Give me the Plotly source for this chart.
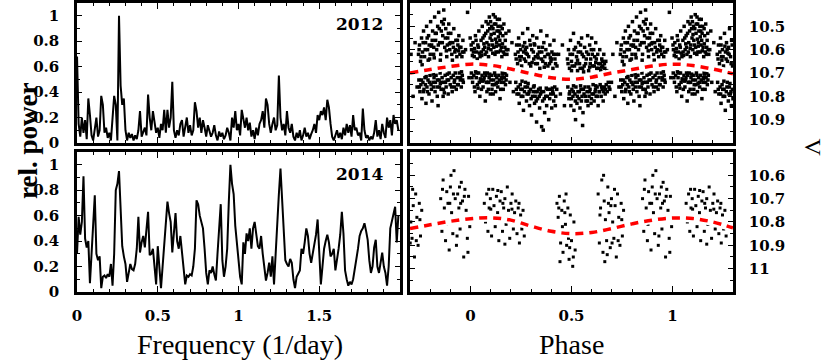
import numpy as np
import plotly.graph_objects as go
from plotly.subplots import make_subplots

# periodograms, sampled every 0.01 1/day from 0 to 1.99
freq = np.arange(200) * 0.01
pow_2012 = [
    0.68, 0.15, 0.05, 0.20, 0.08, 0.18, 0.03, 0.35, 0.22, 0.06,
    0.02, 0.12, 0.20, 0.05, 0.10, 0.37, 0.30, 0.08, 0.12, 0.04,
    0.08, 0.02, 0.20, 0.37, 0.30, 0.02, 1.00, 0.45, 0.30, 0.35,
    0.10, 0.02, 0.08, 0.04, 0.07, 0.02, 0.06, 0.03, 0.10, 0.25,
    0.05, 0.08, 0.12, 0.06, 0.38, 0.20, 0.10, 0.25, 0.18, 0.08,
    0.12, 0.04, 0.15, 0.10, 0.26, 0.08, 0.26, 0.12, 0.20, 0.48,
    0.10, 0.04, 0.10, 0.06, 0.15, 0.18, 0.05, 0.12, 0.20, 0.08,
    0.14, 0.06, 0.10, 0.32, 0.25, 0.12, 0.20, 0.08, 0.18, 0.12,
    0.05, 0.14, 0.10, 0.05, 0.08, 0.14, 0.06, 0.02, 0.09, 0.05,
    0.08, 0.03, 0.06, 0.12, 0.08, 0.02, 0.20, 0.12, 0.25, 0.10,
    0.15, 0.06, 0.26, 0.18, 0.12, 0.20, 0.10, 0.16, 0.05, 0.10,
    0.03, 0.12, 0.06, 0.15, 0.18, 0.25, 0.12, 0.35, 0.30, 0.15,
    0.08, 0.15, 0.20, 0.10, 0.14, 0.53, 0.20, 0.10, 0.15, 0.06,
    0.25, 0.12, 0.08, 0.15, 0.05, 0.02, 0.08, 0.04, 0.10, 0.02,
    0.06, 0.12, 0.05, 0.08, 0.03, 0.07, 0.10, 0.15, 0.08, 0.22,
    0.18, 0.25, 0.22, 0.28, 0.18, 0.34, 0.28, 0.15, 0.05, 0.02,
    0.06, 0.10, 0.04, 0.08, 0.03, 0.12, 0.06, 0.15, 0.08, 0.14,
    0.05, 0.22, 0.10, 0.12, 0.06, 0.08, 0.02, 0.27, 0.10, 0.04,
    0.06, 0.02, 0.05, 0.03, 0.08, 0.18, 0.05, 0.10, 0.03, 0.15,
    0.08, 0.04, 0.20, 0.12, 0.18, 0.06, 0.22, 0.15, 0.18, 0.10,
]
pow_2014 = [
    0.30, 0.59, 0.45, 0.55, 0.91, 0.42, 0.35, 0.40, 0.07, 0.30,
    0.62, 0.76, 0.30, 0.25, 0.28, 0.03, 0.12, 0.13, 0.11, 0.14,
    0.12, 0.22, 0.05, 0.30, 0.80, 0.85, 0.95, 0.70, 0.36, 0.28,
    0.22, 0.08, 0.15, 0.22, 0.18, 0.17, 0.22, 0.34, 0.59, 0.31,
    0.39, 0.44, 0.35, 0.50, 0.63, 0.29, 0.30, 0.34, 0.20, 0.06,
    0.36, 0.15, 0.03, 0.20, 0.38, 0.52, 0.71, 0.62, 0.55, 0.31,
    0.45, 0.62, 0.40, 0.34, 0.44, 0.31, 0.20, 0.06, 0.13, 0.12,
    0.14, 0.13, 0.20, 0.34, 0.72, 0.69, 0.60, 0.55, 0.50, 0.34,
    0.15, 0.06, 0.17, 0.15, 0.20, 0.14, 0.09, 0.30, 0.46, 0.69,
    0.25, 0.12, 0.20, 0.34, 0.71, 1.00, 0.85, 0.77, 0.52, 0.40,
    0.28, 0.12, 0.06, 0.39, 0.30, 0.46, 0.40, 0.50, 0.34, 0.50,
    0.55, 0.45, 0.36, 0.34, 0.44, 0.30, 0.20, 0.09, 0.15, 0.23,
    0.12, 0.28, 0.06, 0.34, 0.60, 0.77, 0.97, 0.69, 0.46, 0.25,
    0.22, 0.20, 0.26, 0.23, 0.10, 0.03, 0.12, 0.15, 0.17, 0.34,
    0.30, 0.39, 0.50, 0.44, 0.30, 0.23, 0.30, 0.39, 0.45, 0.57,
    0.34, 0.06, 0.20, 0.34, 0.40, 0.45, 0.39, 0.28, 0.30, 0.34,
    0.17, 0.25, 0.34, 0.45, 0.63, 0.46, 0.17, 0.10, 0.05, 0.08,
    0.06, 0.10, 0.17, 0.25, 0.34, 0.44, 0.48, 0.50, 0.54, 0.48,
    0.41, 0.25, 0.15, 0.20, 0.35, 0.41, 0.20, 0.15, 0.22, 0.31,
    0.20, 0.15, 0.05, 0.20, 0.50, 0.55, 0.60, 0.67, 0.39, 0.60,
]

# 2012 phased V photometry (phase, V), one list per night
lc12_a = [
    (0.005, 10.60), (0.012, 10.57), (0.018, 10.63), (0.024, 10.54), (0.030, 10.61), (0.036, 10.58),
    (0.041, 10.52), (0.047, 10.63), (0.052, 10.56), (0.058, 10.50), (0.063, 10.60), (0.068, 10.54),
    (0.072, 10.62), (0.077, 10.48), (0.081, 10.57), (0.085, 10.52), (0.089, 10.63), (0.093, 10.46),
    (0.097, 10.55), (0.101, 10.60), (0.105, 10.50), (0.109, 10.58), (0.113, 10.45), (0.117, 10.53),
    (0.121, 10.62), (0.125, 10.49), (0.129, 10.57), (0.133, 10.47), (0.137, 10.61), (0.141, 10.52),
    (0.145, 10.56), (0.150, 10.50), (0.155, 10.63), (0.160, 10.54), (0.165, 10.49), (0.170, 10.59),
    (0.175, 10.53), (0.180, 10.62), (0.020, 10.595), (0.044, 10.615), (0.066, 10.575), (0.088, 10.595),
    (0.110, 10.615), (0.128, 10.585), (0.148, 10.605), (0.168, 10.62), (0.095, 10.51), (0.118, 10.49),
    (0.138, 10.545), (0.158, 10.575), (0.009, 10.625), (0.055, 10.625), (0.075, 10.53), (0.102, 10.535),
    (0.124, 10.555), (0.143, 10.47),
    (0.003, 10.58), (0.014, 10.61), (0.027, 10.56), (0.033, 10.64), (0.039, 10.59), (0.053, 10.61),
    (0.061, 10.55), (0.070, 10.59), (0.079, 10.61), (0.087, 10.49), (0.091, 10.58), (0.099, 10.48),
    (0.106, 10.56), (0.111, 10.51), (0.115, 10.59), (0.122, 10.46), (0.126, 10.61), (0.131, 10.52),
    (0.136, 10.50), (0.142, 10.58), (0.147, 10.53), (0.152, 10.59), (0.157, 10.51), (0.163, 10.61),
    (0.172, 10.56), (0.177, 10.60),
    (0.004, 10.70), (0.010, 10.74), (0.016, 10.71), (0.022, 10.78), (0.028, 10.72), (0.034, 10.75),
    (0.040, 10.70), (0.046, 10.80), (0.051, 10.73), (0.057, 10.71), (0.062, 10.76), (0.067, 10.72),
    (0.073, 10.82), (0.078, 10.74), (0.083, 10.70), (0.088, 10.77), (0.092, 10.72), (0.098, 10.79),
    (0.103, 10.71), (0.108, 10.75), (0.114, 10.73), (0.119, 10.70), (0.124, 10.78), (0.130, 10.72),
    (0.135, 10.76), (0.140, 10.71), (0.146, 10.81), (0.151, 10.74), (0.157, 10.70), (0.162, 10.77),
    (0.167, 10.72), (0.173, 10.75), (0.178, 10.71), (0.025, 10.695), (0.060, 10.735), (0.095, 10.705),
    (0.127, 10.745), (0.160, 10.705), (0.037, 10.765), (0.070, 10.70), (0.112, 10.79), (0.153, 10.725),
    (0.085, 10.74), (0.048, 10.725),
    (0.007, 10.72), (0.019, 10.76), (0.031, 10.70), (0.043, 10.74), (0.054, 10.77), (0.065, 10.73),
    (0.076, 10.71), (0.081, 10.78), (0.090, 10.74), (0.101, 10.73), (0.106, 10.77), (0.117, 10.75),
    (0.122, 10.71), (0.133, 10.74), (0.143, 10.73), (0.149, 10.77), (0.155, 10.72), (0.165, 10.74),
    (0.171, 10.70), (0.176, 10.73),
]
lc12_b = [
    (0.222, 10.62), (0.228, 10.58), (0.233, 10.66), (0.238, 10.55), (0.243, 10.63), (0.248, 10.60),
    (0.253, 10.67), (0.258, 10.53), (0.263, 10.61), (0.268, 10.57), (0.273, 10.65), (0.278, 10.59),
    (0.283, 10.51), (0.288, 10.63), (0.293, 10.56), (0.298, 10.67), (0.303, 10.60), (0.308, 10.54),
    (0.313, 10.64), (0.318, 10.58), (0.323, 10.66), (0.328, 10.55), (0.333, 10.62), (0.338, 10.59),
    (0.343, 10.68), (0.348, 10.52), (0.353, 10.61), (0.358, 10.65), (0.363, 10.57), (0.368, 10.63),
    (0.373, 10.60), (0.378, 10.54), (0.383, 10.67), (0.388, 10.62), (0.393, 10.58), (0.398, 10.65),
    (0.403, 10.61), (0.408, 10.68), (0.413, 10.56), (0.418, 10.64), (0.423, 10.62), (0.428, 10.67),
    (0.245, 10.645), (0.275, 10.615), (0.305, 10.655), (0.335, 10.635), (0.365, 10.675), (0.395, 10.635),
    (0.260, 10.585), (0.315, 10.575),
    (0.226, 10.64), (0.235, 10.61), (0.241, 10.58), (0.251, 10.63), (0.266, 10.64), (0.271, 10.60),
    (0.281, 10.62), (0.291, 10.66), (0.296, 10.58), (0.311, 10.61), (0.321, 10.63), (0.331, 10.66),
    (0.341, 10.61), (0.351, 10.64), (0.356, 10.59), (0.371, 10.66), (0.381, 10.62), (0.391, 10.66),
    (0.401, 10.64), (0.411, 10.62), (0.421, 10.66),
    (0.224, 10.74), (0.230, 10.79), (0.236, 10.76), (0.241, 10.83), (0.246, 10.75), (0.251, 10.80),
    (0.256, 10.77), (0.262, 10.86), (0.267, 10.78), (0.272, 10.74), (0.277, 10.82), (0.282, 10.76),
    (0.287, 10.79), (0.292, 10.84), (0.297, 10.77), (0.302, 10.88), (0.307, 10.80), (0.312, 10.76),
    (0.317, 10.83), (0.322, 10.78), (0.327, 10.91), (0.332, 10.81), (0.337, 10.77), (0.342, 10.85),
    (0.347, 10.79), (0.352, 10.93), (0.357, 10.82), (0.362, 10.78), (0.367, 10.87), (0.372, 10.80),
    (0.377, 10.84), (0.382, 10.77), (0.387, 10.90), (0.392, 10.81), (0.397, 10.79), (0.402, 10.85),
    (0.407, 10.78), (0.412, 10.82), (0.417, 10.76), (0.422, 10.80), (0.427, 10.77), (0.255, 10.735),
    (0.285, 10.745), (0.315, 10.755), (0.345, 10.765), (0.375, 10.765), (0.405, 10.765), (0.325, 10.82),
    (0.360, 10.945),
    (0.227, 10.77), (0.239, 10.79), (0.249, 10.77), (0.259, 10.80), (0.270, 10.76), (0.280, 10.79),
    (0.290, 10.78), (0.300, 10.81), (0.310, 10.78), (0.320, 10.80), (0.330, 10.78), (0.340, 10.80),
    (0.350, 10.78), (0.365, 10.81), (0.380, 10.80), (0.395, 10.77), (0.410, 10.79), (0.420, 10.84),
]
lc12_c = [
    (0.480, 10.64), (0.485, 10.60), (0.490, 10.68), (0.495, 10.56), (0.500, 10.65), (0.505, 10.62),
    (0.510, 10.53), (0.515, 10.67), (0.520, 10.59), (0.525, 10.63), (0.530, 10.69), (0.535, 10.57),
    (0.540, 10.66), (0.545, 10.61), (0.550, 10.55), (0.555, 10.68), (0.560, 10.63), (0.565, 10.59),
    (0.570, 10.66), (0.575, 10.61), (0.580, 10.54), (0.585, 10.69), (0.590, 10.58), (0.595, 10.64),
    (0.600, 10.55), (0.605, 10.67), (0.610, 10.60), (0.615, 10.63), (0.620, 10.57), (0.625, 10.68),
    (0.630, 10.62), (0.635, 10.66), (0.640, 10.60), (0.645, 10.69), (0.650, 10.64), (0.655, 10.67),
    (0.660, 10.62), (0.665, 10.68), (0.670, 10.65), (0.675, 10.69), (0.500, 10.69), (0.530, 10.645),
    (0.560, 10.695), (0.590, 10.675), (0.620, 10.655), (0.650, 10.675), (0.545, 10.58), (0.598, 10.60),
    (0.483, 10.66), (0.493, 10.62), (0.503, 10.67), (0.513, 10.60), (0.523, 10.66), (0.533, 10.61),
    (0.543, 10.68), (0.553, 10.62), (0.563, 10.67), (0.573, 10.64), (0.583, 10.62), (0.593, 10.66),
    (0.603, 10.62), (0.613, 10.67), (0.623, 10.64), (0.633, 10.68), (0.643, 10.66), (0.653, 10.65),
    (0.663, 10.66),
    (0.482, 10.76), (0.487, 10.81), (0.492, 10.78), (0.497, 10.84), (0.502, 10.77), (0.507, 10.80),
    (0.512, 10.86), (0.517, 10.79), (0.522, 10.76), (0.527, 10.83), (0.532, 10.78), (0.537, 10.81),
    (0.542, 10.85), (0.547, 10.77), (0.552, 10.80), (0.557, 10.87), (0.562, 10.79), (0.567, 10.76),
    (0.572, 10.82), (0.577, 10.78), (0.582, 10.84), (0.587, 10.80), (0.592, 10.77), (0.597, 10.83),
    (0.602, 10.79), (0.607, 10.75), (0.612, 10.82), (0.617, 10.78), (0.622, 10.80), (0.627, 10.76),
    (0.632, 10.84), (0.637, 10.78), (0.642, 10.75), (0.647, 10.80), (0.652, 10.77), (0.657, 10.82),
    (0.662, 10.76), (0.667, 10.79), (0.672, 10.75), (0.677, 10.78), (0.682, 10.74), (0.690, 10.77),
    (0.698, 10.74), (0.520, 10.90), (0.555, 10.925), (0.510, 10.755), (0.545, 10.755), (0.585, 10.76),
    (0.620, 10.755),
    (0.489, 10.79), (0.499, 10.81), (0.509, 10.78), (0.519, 10.82), (0.529, 10.80), (0.539, 10.78),
    (0.549, 10.82), (0.559, 10.77), (0.569, 10.80), (0.579, 10.82), (0.589, 10.78), (0.599, 10.81),
    (0.609, 10.79), (0.619, 10.77), (0.629, 10.80), (0.639, 10.78), (0.649, 10.76), (0.659, 10.78),
    (0.669, 10.77), (0.686, 10.76),
]
lc12_d = [
    (0.742, 10.62), (0.747, 10.58), (0.752, 10.65), (0.757, 10.55), (0.762, 10.61), (0.767, 10.52),
    (0.772, 10.63), (0.777, 10.57), (0.782, 10.50), (0.787, 10.60), (0.792, 10.54), (0.797, 10.64),
    (0.802, 10.48), (0.807, 10.58), (0.812, 10.52), (0.817, 10.62), (0.822, 10.46), (0.827, 10.56),
    (0.832, 10.60), (0.837, 10.50), (0.842, 10.44), (0.847, 10.57), (0.852, 10.62), (0.857, 10.48),
    (0.862, 10.54), (0.867, 10.43), (0.872, 10.59), (0.877, 10.51), (0.882, 10.63), (0.887, 10.55),
    (0.892, 10.49), (0.897, 10.60), (0.902, 10.53), (0.907, 10.62), (0.912, 10.57), (0.917, 10.51),
    (0.922, 10.61), (0.927, 10.56), (0.932, 10.63), (0.937, 10.58), (0.942, 10.54), (0.947, 10.62),
    (0.952, 10.59), (0.957, 10.63), (0.962, 10.56), (0.967, 10.61), (0.760, 10.665), (0.790, 10.645),
    (0.820, 10.635), (0.850, 10.645), (0.880, 10.605), (0.910, 10.645), (0.940, 10.605), (0.825, 10.53),
    (0.855, 10.52), (0.870, 10.47), (0.895, 10.575), (0.805, 10.585),
    (0.745, 10.60), (0.755, 10.63), (0.765, 10.57), (0.775, 10.60), (0.785, 10.55), (0.795, 10.58),
    (0.800, 10.62), (0.810, 10.56), (0.818, 10.59), (0.830, 10.53), (0.840, 10.58), (0.845, 10.51),
    (0.860, 10.57), (0.865, 10.49), (0.875, 10.55), (0.885, 10.58), (0.890, 10.53), (0.900, 10.57),
    (0.915, 10.59), (0.925, 10.60), (0.935, 10.56), (0.945, 10.59), (0.960, 10.61),
    (0.744, 10.73), (0.749, 10.78), (0.754, 10.75), (0.759, 10.81), (0.764, 10.74), (0.769, 10.77),
    (0.774, 10.72), (0.779, 10.83), (0.784, 10.76), (0.789, 10.73), (0.794, 10.79), (0.799, 10.71),
    (0.804, 10.75), (0.809, 10.82), (0.814, 10.74), (0.819, 10.72), (0.824, 10.78), (0.829, 10.71),
    (0.834, 10.76), (0.839, 10.84), (0.844, 10.73), (0.849, 10.70), (0.854, 10.77), (0.859, 10.72),
    (0.864, 10.80), (0.869, 10.74), (0.874, 10.71), (0.879, 10.76), (0.884, 10.73), (0.889, 10.79),
    (0.894, 10.70), (0.899, 10.75), (0.904, 10.72), (0.909, 10.78), (0.914, 10.71), (0.919, 10.74),
    (0.924, 10.70), (0.929, 10.77), (0.934, 10.72), (0.939, 10.75), (0.944, 10.70), (0.949, 10.73),
    (0.954, 10.76), (0.959, 10.71), (0.964, 10.74), (0.780, 10.715), (0.815, 10.705), (0.850, 10.745),
    (0.885, 10.705), (0.920, 10.76), (0.955, 10.695), (0.835, 10.80), (0.870, 10.785),
    (0.746, 10.76), (0.756, 10.73), (0.766, 10.78), (0.776, 10.75), (0.786, 10.78), (0.796, 10.74),
    (0.806, 10.77), (0.816, 10.76), (0.826, 10.74), (0.836, 10.73), (0.846, 10.76), (0.856, 10.74),
    (0.866, 10.77), (0.876, 10.74), (0.891, 10.73), (0.906, 10.76), (0.921, 10.73), (0.936, 10.75),
    (0.951, 10.72), (0.961, 10.73),
]
lc12_sparse = [
    (0.185, 10.60), (0.195, 10.74), (0.205, 10.57), (0.212, 10.78), (0.190, 10.52), (0.436, 10.62),
    (0.445, 10.79), (0.455, 10.58), (0.465, 10.84), (0.705, 10.62), (0.715, 10.80), (0.725, 10.57),
    (0.735, 10.76), (0.975, 10.60), (0.985, 10.44), (0.992, 10.72), (0.998, 10.55),
]

# 2014 phased V photometry
lc14_a = [
    (0.068, 10.72), (0.074, 10.80), (0.080, 10.68), (0.086, 10.84), (0.092, 10.74), (0.098, 10.70),
    (0.104, 10.86), (0.110, 10.66), (0.116, 10.73), (0.122, 10.82), (0.128, 10.69), (0.134, 10.76),
    (0.140, 10.88), (0.146, 10.71), (0.152, 10.67), (0.158, 10.84), (0.164, 10.74), (0.170, 10.70),
    (0.176, 10.81), (0.182, 10.65), (0.188, 10.75), (0.194, 10.87), (0.200, 10.72), (0.206, 10.68),
    (0.212, 10.83), (0.218, 10.76), (0.224, 10.71), (0.230, 10.85), (0.236, 10.74), (0.242, 10.89),
    (0.248, 10.77), (0.254, 10.83), (0.260, 10.75), (0.266, 10.86), (0.100, 10.745), (0.135, 10.665),
    (0.170, 10.895), (0.205, 10.745), (0.240, 10.72), (0.090, 10.66), (0.160, 10.72), (0.225, 10.80),
]
lc14_b = [
    (0.428, 10.72), (0.434, 10.78), (0.440, 10.69), (0.446, 10.89), (0.452, 10.75), (0.458, 10.93),
    (0.464, 10.71), (0.470, 10.81), (0.476, 10.90), (0.482, 10.74), (0.488, 10.96), (0.494, 10.77),
    (0.500, 10.88), (0.506, 10.99), (0.512, 10.80), (0.518, 10.92), (0.437, 10.74), (0.455, 10.82),
    (0.473, 10.68), (0.491, 10.91), (0.509, 10.95), (0.443, 10.97), (0.467, 10.76), (0.485, 10.87),
]
lc14_c = [
    (0.632, 10.68), (0.638, 10.89), (0.644, 10.74), (0.650, 10.62), (0.656, 10.93), (0.662, 10.71),
    (0.668, 10.79), (0.674, 10.88), (0.680, 10.65), (0.686, 10.76), (0.692, 10.91), (0.698, 10.70),
    (0.704, 10.80), (0.710, 10.87), (0.716, 10.73), (0.722, 10.95), (0.728, 10.68), (0.734, 10.78),
    (0.740, 10.90), (0.746, 10.72), (0.752, 10.86), (0.758, 10.75), (0.641, 10.77), (0.659, 10.60),
    (0.677, 10.94), (0.695, 10.73), (0.713, 10.66), (0.731, 10.88), (0.749, 10.79), (0.665, 10.97),
    (0.683, 10.72), (0.701, 10.89),
]
lc14_d = [
    (0.852, 10.70), (0.858, 10.84), (0.864, 10.62), (0.870, 10.74), (0.876, 10.88), (0.882, 10.67),
    (0.888, 10.72), (0.894, 10.92), (0.900, 10.65), (0.906, 10.76), (0.912, 10.85), (0.918, 10.58),
    (0.924, 10.70), (0.930, 10.90), (0.936, 10.68), (0.942, 10.74), (0.948, 10.83), (0.954, 10.63),
    (0.960, 10.71), (0.966, 10.95), (0.972, 10.66), (0.978, 10.75), (0.984, 10.87), (0.990, 10.69),
    (0.996, 10.82), (0.861, 10.66), (0.879, 10.81), (0.897, 10.72), (0.915, 10.68), (0.933, 10.86),
    (0.951, 10.72), (0.969, 10.69), (0.987, 10.93), (0.903, 10.60), (0.945, 10.65),
]

# fitted curves (red dashed)
fit_phase = [-0.3, -0.2, -0.1, 0.0, 0.1, 0.2, 0.3, 0.4, 0.5, 0.6, 0.7, 0.8, 0.9, 1.0, 1.1, 1.2, 1.3]
fit12_v = [10.700, 10.685, 10.672, 10.662, 10.667, 10.683, 10.703, 10.720, 10.727, 10.718,
           10.700, 10.685, 10.670, 10.662, 10.668, 10.683, 10.703]
fit14_v = [10.828, 10.812, 10.797, 10.786, 10.782, 10.792, 10.818, 10.840, 10.850, 10.845,
           10.828, 10.808, 10.792, 10.783, 10.785, 10.800, 10.825]


def folded(*nights):
    pts = np.array([p for n in nights for p in n])
    ph = np.concatenate([pts[:, 0] - 1, pts[:, 0], pts[:, 0] + 1])
    v = np.tile(pts[:, 1], 3)
    keep = (ph >= -0.3) & (ph <= 1.3)
    return ph[keep], v[keep]


fig = make_subplots(rows=2, cols=2)

fig.add_trace(go.Scatter(x=freq, y=pow_2012, mode='lines', line=dict(color='black', width=2)), row=1, col=1)
fig.add_trace(go.Scatter(x=freq, y=pow_2014, mode='lines', line=dict(color='black', width=2)), row=2, col=1)

for row, nights, fit_v, msize in [(1, [lc12_a, lc12_b, lc12_c, lc12_d, lc12_sparse], fit12_v, 3.5),
                                  (2, [lc14_a, lc14_b, lc14_c, lc14_d], fit14_v, 3)]:
    ph, v = folded(*nights)
    fig.add_trace(go.Scatter(x=ph, y=v, mode='markers',
                             marker=dict(symbol='square', size=msize, color='black', line=dict(width=0))),
                  row=row, col=2)
    fig.add_trace(go.Scatter(x=fit_phase, y=fit_v, mode='lines', line_shape='spline',
                             line=dict(color='white', width=8)), row=row, col=2)
    fig.add_trace(go.Scatter(x=fit_phase, y=fit_v, mode='lines', line_shape='spline',
                             line=dict(color='#ff0000', width=3.5, dash='8px,6px')), row=row, col=2)

tick_font = dict(family='DejaVu Serif', size=15, color='black', weight='bold')
box = dict(showline=True, linewidth=2.5, linecolor='black', mirror='allticks', ticks='inside',
           tickcolor='black', showgrid=False, zeroline=False, tickfont=tick_font, automargin=False)
minor_x = dict(dtick=0.1, ticklen=3, ticks='inside', tickcolor='black')

xl = [0.0928, 0.4819]
xr = [0.494, 0.8831]
yt = [0.6061, 0.9917]
yb = [0.1956, 0.5813]

fig.update_layout(
    width=830, height=363, margin=dict(l=0, r=0, t=0, b=0),
    paper_bgcolor='white', plot_bgcolor='white', showlegend=False,
    xaxis=dict(box, domain=xl, range=[0, 2.0], dtick=0.5, ticklen=6, showticklabels=False, minor=minor_x),
    xaxis3=dict(box, domain=xl, range=[0, 2.0], tickvals=[0, 0.5, 1, 1.5], ticklen=6,
                ticklabelstandoff=8, minor=minor_x),
    yaxis=dict(box, domain=yt, range=[0, 1.1], dtick=0.2, ticklen=5, ticklabelstandoff=12, minor=minor_x),
    yaxis3=dict(box, domain=yb, range=[0, 1.1], dtick=0.2, ticklen=5, ticklabelstandoff=12, minor=minor_x),
    xaxis2=dict(box, domain=xr, range=[-0.3, 1.3], tickvals=[0, 0.5, 1], ticklen=6, showticklabels=False,
                minor=minor_x),
    xaxis4=dict(box, domain=xr, range=[-0.3, 1.3], tickvals=[0, 0.5, 1], ticklen=6, ticklabelstandoff=8,
                minor=minor_x),
    yaxis2=dict(box, domain=yt, range=[11.0, 10.4], side='right', tickvals=[10.5, 10.6, 10.7, 10.8, 10.9],
                ticklen=5, ticklabelstandoff=10,
                minor=dict(dtick=0.05, ticklen=3, ticks='inside', tickcolor='black')),
    yaxis4=dict(box, domain=yb, range=[11.1, 10.5], side='right', tickvals=[10.6, 10.7, 10.8, 10.9, 11.0],
                ticklen=5, ticklabelstandoff=10,
                minor=dict(dtick=0.05, ticklen=3, ticks='inside', tickcolor='black')),
)

title_font = dict(family='Liberation Serif', size=28, color='black')
label = dict(xref='paper', yref='paper', xanchor='center', yanchor='middle', showarrow=False)
fig.add_annotation(label, text='Frequency (1/day)', x=0.289, y=0.052, font=title_font)
fig.add_annotation(label, text='Phase', x=0.689, y=0.052, font=title_font)
fig.add_annotation(label, text='rel. power', x=0.034, y=0.612, textangle=-90,
                   font=dict(title_font, size=27, weight='bold'))
fig.add_annotation(label, text='V', x=0.979, y=0.595, textangle=90, font=dict(title_font, size=24))
year_font = dict(family='DejaVu Serif', size=17, color='black', weight='bold')
fig.add_annotation(text='2012', x=0.955, y=0.85, xref='x domain', yref='y domain', xanchor='right',
                   yanchor='middle', showarrow=False, font=year_font)
fig.add_annotation(text='2014', x=0.955, y=0.84, xref='x3 domain', yref='y3 domain', xanchor='right',
                   yanchor='middle', showarrow=False, font=year_font)

# drop the browser's default 8px body margin so the figure sits at the page corner
fig.write_html("out.html", config={'displayModeBar': False},
               post_script="document.body.style.margin='0';")
